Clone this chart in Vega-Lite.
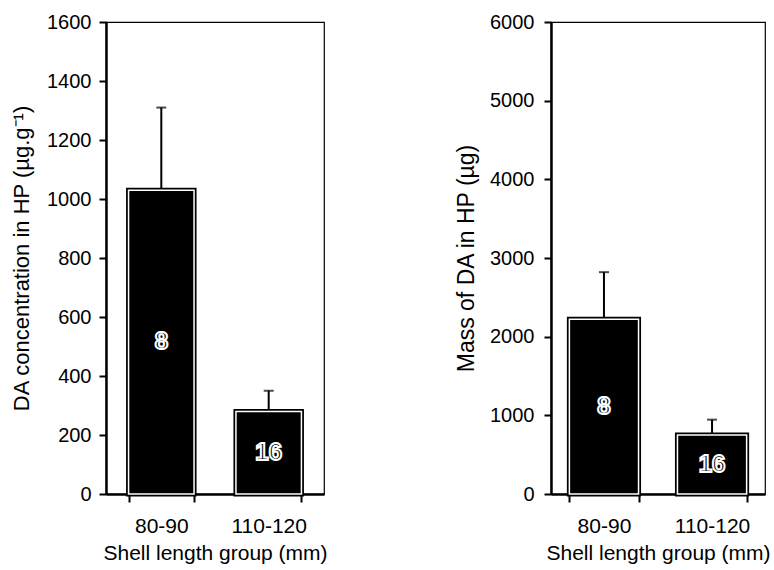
{
  "$schema": "https://vega.github.io/schema/vega-lite/v6.json",
  "background": "white",
  "padding": {"left": 9, "top": 11, "right": 5, "bottom": 5},
  "spacing": 126,
  "datasets": {
    "conc": [
      {"group": "80-90", "value": 1030, "upper": 1310, "n": "8"},
      {"group": "110-120", "value": 280, "upper": 350, "n": "16"}
    ],
    "mass": [
      {"group": "80-90", "value": 2220, "upper": 2820, "n": "8"},
      {"group": "110-120", "value": 750, "upper": 945, "n": "16"}
    ]
  },
  "hconcat": [
    {
      "width": 218,
      "height": 472,
      "data": {"name": "conc"},
      "transform": [{"calculate": "datum.value / 2", "as": "mid"}],
      "encoding": {
        "x": {
          "field": "group",
          "type": "nominal",
          "sort": ["80-90", "110-120"],
          "scale": {"paddingInner": 0.39, "paddingOuter": 0.21},
          "axis": {
            "title": "Shell length group (mm)",
            "labelAngle": 0,
            "tickBand": "extent",
            "tickSize": 8,
            "labelFontSize": 21,
            "labelPadding": 13,
            "titleFontSize": 21,
            "titlePadding": 6
          }
        },
        "y": {
          "field": "value",
          "type": "quantitative",
          "title": "DA concentration in HP (µg.g⁻¹)",
          "scale": {"domain": [0, 1600], "nice": false},
          "axis": {
            "values": [0, 200, 400, 600, 800, 1000, 1200, 1400, 1600],
            "format": "d",
            "labelFontSize": 20,
            "labelPadding": 8,
            "titleFontSize": 22,
            "titlePadding": 13
          }
        }
      },
      "layer": [
        {
          "mark": {"type": "rule", "color": "black", "strokeWidth": 2},
          "encoding": {"y2": {"field": "upper"}}
        },
        {
          "mark": {"type": "tick", "color": "black", "thickness": 2, "size": 10},
          "encoding": {"y": {"field": "upper", "type": "quantitative", "title": "DA concentration in HP (µg.g⁻¹)"}}
        },
        {
          "mark": {"type": "bar", "fill": "black", "stroke": "black", "strokeWidth": 5}
        },
        {
          "mark": {"type": "bar", "fillOpacity": 0, "stroke": "white", "strokeWidth": 1.5}
        },
        {
          "mark": {"type": "text", "fontSize": 24, "fontWeight": "bold", "fill": "black", "stroke": "white", "strokeWidth": 2, "baseline": "middle"},
          "encoding": {
            "y": {"field": "mid", "type": "quantitative", "title": "DA concentration in HP (µg.g⁻¹)"},
            "text": {"field": "n"}
          }
        }
      ]
    },
    {
      "width": 214,
      "height": 472,
      "data": {"name": "mass"},
      "transform": [{"calculate": "datum.value / 2", "as": "mid"}],
      "encoding": {
        "x": {
          "field": "group",
          "type": "nominal",
          "sort": ["80-90", "110-120"],
          "scale": {"paddingInner": 0.36, "paddingOuter": 0.17},
          "axis": {
            "title": "Shell length group (mm)",
            "labelAngle": 0,
            "tickBand": "extent",
            "tickSize": 8,
            "labelFontSize": 21,
            "labelPadding": 13,
            "titleFontSize": 21,
            "titlePadding": 6
          }
        },
        "y": {
          "field": "value",
          "type": "quantitative",
          "title": "Mass of DA in HP (µg)",
          "scale": {"domain": [0, 6000], "nice": false},
          "axis": {
            "values": [0, 1000, 2000, 3000, 4000, 5000, 6000],
            "format": "d",
            "labelFontSize": 20,
            "labelPadding": 10,
            "titleFontSize": 23,
            "titlePadding": 11
          }
        }
      },
      "layer": [
        {
          "mark": {"type": "rule", "color": "black", "strokeWidth": 2},
          "encoding": {"y2": {"field": "upper"}}
        },
        {
          "mark": {"type": "tick", "color": "black", "thickness": 2, "size": 10},
          "encoding": {"y": {"field": "upper", "type": "quantitative", "title": "Mass of DA in HP (µg)"}}
        },
        {
          "mark": {"type": "bar", "fill": "black", "stroke": "black", "strokeWidth": 5}
        },
        {
          "mark": {"type": "bar", "fillOpacity": 0, "stroke": "white", "strokeWidth": 1.5}
        },
        {
          "mark": {"type": "text", "fontSize": 24, "fontWeight": "bold", "fill": "black", "stroke": "white", "strokeWidth": 2, "baseline": "middle"},
          "encoding": {
            "y": {"field": "mid", "type": "quantitative", "title": "Mass of DA in HP (µg)"},
            "text": {"field": "n"}
          }
        }
      ]
    }
  ],
  "config": {
    "font": "Liberation Sans",
    "view": {"stroke": "black", "strokeWidth": 1.2},
    "axis": {
      "grid": false,
      "domainColor": "black",
      "domainWidth": 2.5,
      "tickColor": "black",
      "tickWidth": 2,
      "tickSize": 7,
      "labelColor": "black",
      "titleColor": "black",
      "labelFont": "Liberation Sans",
      "titleFont": "Liberation Sans",
      "titleFontWeight": "normal"
    }
  }
}
